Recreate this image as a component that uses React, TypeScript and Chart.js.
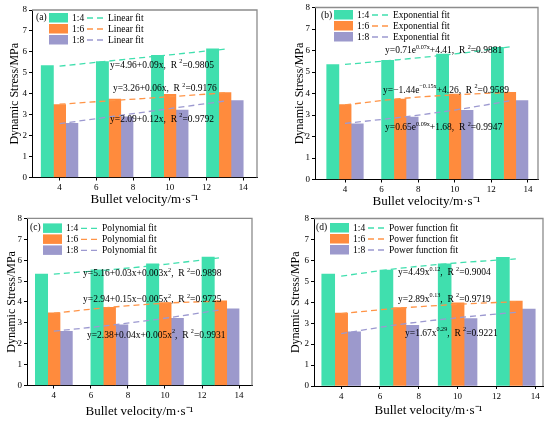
import React, { useEffect, useRef } from "react";
import { Chart, registerables } from "chart.js";

Chart.register(...registerables);

Chart.defaults.font.family = "'Liberation Serif', 'Times New Roman', serif";
Chart.defaults.color = "#000";

// bullet velocity of each bar group (m/s)
const velocities = [4, 7, 10, 13];
const xTicks = [4, 6, 8, 10, 12, 14];
const yTicks = [0, 1, 2, 3, 4, 5, 6, 7, 8];
const ratios = ["1:4", "1:6", "1:8"];

// measured dynamic stress (MPa)
const stress14 = [5.34, 5.54, 5.83, 6.15];
const stress16 = [3.48, 3.74, 3.97, 4.05];
const stress18 = [2.59, 2.9, 3.22, 3.67];

// fit curves
const linear14 = [5.32, 5.59, 5.86, 6.13];
const linear16 = [3.5, 3.68, 3.86, 4.04];
const linear18 = [2.57, 2.93, 3.29, 3.65];

const exp14 = [5.35, 5.58, 5.84, 6.17];
const exp16 = [3.47, 3.76, 3.94, 4.05];
const exp18 = [2.61, 2.89, 3.23, 3.66];

const poly14 = [5.33, 5.54, 5.8, 6.12];
const poly16 = [3.46, 3.74, 3.94, 4.04];
const poly18 = [2.6, 2.88, 3.22, 3.62];

const power14 = [5.25, 5.62, 5.88, 6.07];
const power16 = [3.46, 3.72, 3.9, 4.03];
const power18 = [2.5, 2.94, 3.26, 3.52];

const linearEq = [
  "y=4.96+0.09x,  R ^{2}=0.9805",
  "y=3.26+0.06x,  R ^{2}=0.9176",
  "y=2.09+0.12x,  R ^{2}=0.9792",
];
const expEq = [
  "y=0.71e^{0.07x}+4.41,  R ^{2}=0.9881",
  "y=\u22121.44e^{\u22120.15x}+4.26,  R ^{2}=0.9589",
  "y=0.65e^{0.09x}+1.68,  R ^{2}=0.9947",
];
const polyEq = [
  "y=5.16+0.03x+0.003x^{2},  R ^{2}=0.9898",
  "y=2.94+0.15x\u22120.005x^{2},  R ^{2}=0.9725",
  "y=2.38+0.04x+0.005x^{2},  R ^{2}=0.9931",
];
const powerEq = [
  "y=4.49x^{0.12},  R ^{2}=0.9004",
  "y=2.89x^{0.13},  R ^{2}=0.9719",
  "y=1.67x^{0.29},  R ^{2}=0.9221",
];

const barColors = ["#40dfae", "#ff8b3d", "#9c99cc"];
const lineColors = ["#40dfae", "#ff9447", "#9c99d0"];

const W = 275;
const H = 211;

type Area = { left: number; top: number; right: number; bottom: number };

interface PanelSpec {
  tag: string;
  fitName: string;
  fits: number[][];
  eqs: string[];
  eqPos: [number, number][];
  x: number;
  y: number;
  area: Area;
  xMin: number;
  xMax: number;
  yTitleX: number;
  xTitleGap: number;
  tagDx: number;
  tagDy: number;
  legDx: number;
  legDy: number;
}

const panels: PanelSpec[] = [
  {
    tag: "(a)", fitName: "Linear fit", fits: [linear14, linear16, linear18], eqs: linearEq,
    eqPos: [[6.75, 5.37], [6.91, 4.23], [6.75, 2.79]],
    x: 0, y: 0, area: { left: 32, top: 10, right: 257, bottom: 177.5 }, xMin: 2.5, xMax: 14.75,
    yTitleX: 15, xTitleGap: 11, tagDx: 4, tagDy: 7, legDx: 17, legDy: 3,
  },
  {
    tag: "(b)", fitName: "Exponential fit", fits: [exp14, exp16, exp18], eqs: expEq,
    eqPos: [[6.19, 5.98], [6.08, 4.16], [6.19, 2.4]],
    x: 275, y: 0, area: { left: 40, top: 7.5, right: 263, bottom: 179.5 }, xMin: 2.36, xMax: 14.55,
    yTitleX: 25, xTitleGap: 9, tagDx: 6, tagDy: 8, legDx: 19, legDy: 2.5,
  },
  {
    tag: "(c)", fitName: "Polynomial fit", fits: [poly14, poly16, poly18], eqs: polyEq,
    eqPos: [[5.58, 5.37], [5.58, 4.13], [5.79, 2.41]],
    x: 0, y: 211, area: { left: 27, top: 7, right: 252, bottom: 174.5 }, xMin: 2.55, xMax: 14.7,
    yTitleX: 12, xTitleGap: 10, tagDx: 3, tagDy: 9, legDx: 16, legDy: 5,
  },
  {
    tag: "(d)", fitName: "Power function fit", fits: [power14, power16, power18], eqs: powerEq,
    eqPos: [[6.93, 5.4], [6.93, 4.15], [7.29, 2.53]],
    x: 275, y: 211, area: { left: 39, top: 7.5, right: 268, bottom: 175 }, xMin: 2.6, xMax: 14.4,
    yTitleX: 20.5, xTitleGap: 11, tagDx: 2, tagDy: 8.5, legDx: 16, legDy: 4.5,
  },
];

const bars = [stress14, stress16, stress18];
const FONT = "'Liberation Serif', 'Times New Roman', serif";

function splitSup(s: string) {
  const out: { t: string; sup: boolean }[] = [];
  const re = /\^\{([^}]*)\}/g;
  let last = 0;
  let m: RegExpExecArray | null;
  while ((m = re.exec(s))) {
    if (m.index > last) out.push({ t: s.slice(last, m.index), sup: false });
    out.push({ t: m[1], sup: true });
    last = re.lastIndex;
  }
  if (last < s.length) out.push({ t: s.slice(last), sup: false });
  return out;
}

function drawRich(ctx: CanvasRenderingContext2D, s: string, x: number, y: number, size: number) {
  let cx = x;
  ctx.textBaseline = "middle";
  ctx.textAlign = "left";
  for (const seg of splitSup(s)) {
    const fs = seg.sup ? size * 0.65 : size;
    ctx.font = `${fs}px ${FONT}`;
    ctx.fillText(seg.t, cx, seg.sup ? y - size * 0.35 : y);
    cx += ctx.measureText(seg.t).width;
  }
}

function decor(spec: PanelSpec) {
  return {
    id: "decor",
    afterDatasetsDraw(chart: any) {
      const { ctx, chartArea: a, scales } = chart;
      ctx.save();
      // top and right frame
      ctx.strokeStyle = "#8c8c8c";
      ctx.lineWidth = 1.3;
      ctx.beginPath();
      ctx.moveTo(a.left, a.top);
      ctx.lineTo(a.right, a.top);
      ctx.lineTo(a.right, a.bottom);
      ctx.stroke();

      // legend
      ctx.fillStyle = "#000";
      ctx.font = `9.5px ${FONT}`;
      ctx.textBaseline = "middle";
      ctx.fillText(spec.tag, a.left + spec.tagDx, a.top + spec.tagDy);
      const bx = a.left + spec.legDx;
      ratios.forEach((r, i) => {
        const by = a.top + spec.legDy + i * 11;
        ctx.fillStyle = barColors[i];
        ctx.fillRect(bx, by, 19, 9.5);
        ctx.fillStyle = "#000";
        ctx.font = `9.5px ${FONT}`;
        ctx.fillText(r, bx + 23, by + 5);
        ctx.strokeStyle = lineColors[i];
        ctx.lineWidth = 1.3;
        ctx.setLineDash([6, 4]);
        ctx.beginPath();
        ctx.moveTo(bx + 38, by + 5);
        ctx.lineTo(bx + 57, by + 5);
        ctx.stroke();
        ctx.setLineDash([]);
        ctx.fillText(spec.fitName, bx + 59, by + 5);
      });

      // fit equations
      ctx.fillStyle = "#000";
      spec.eqs.forEach((eq, i) => {
        const [vx, vy] = spec.eqPos[i];
        drawRich(ctx, eq, scales.x.getPixelForValue(vx), scales.y.getPixelForValue(vy), 9.5);
      });
      ctx.restore();
    },
  };
}

function Panel({ spec }: { spec: PanelSpec }) {
  const canvasRef = useRef<HTMLCanvasElement | null>(null);

  useEffect(() => {
    const ctx = canvasRef.current?.getContext("2d");
    if (!ctx) return;
    const area = spec.area;
    const tickGrid = {
      display: true,
      drawOnChartArea: false,
      drawTicks: true,
      tickLength: 3,
      color: "#000",
      lineWidth: 1,
      offset: false,
    };
    const chart = new Chart(ctx, {
      type: "bar",
      data: {
        datasets: [
          ...ratios.map((r, i) => ({
            type: "bar" as const,
            label: r,
            data: velocities.map((v, j) => ({ x: v, y: bars[i][j] })),
            backgroundColor: barColors[i],
            borderWidth: 0,
            categoryPercentage: 1,
            barPercentage: 1,
            order: 2,
          })),
          ...ratios.map((r, i) => ({
            type: "line" as const,
            label: `${r} ${spec.fitName}`,
            data: velocities.map((v, j) => ({ x: v, y: spec.fits[i][j] })),
            borderColor: lineColors[i],
            borderWidth: 1.3,
            borderDash: [6, 4],
            pointRadius: 0,
            fill: false,
            cubicInterpolationMode: "monotone" as const,
            order: 1,
          })),
        ] as any,
      },
      options: {
        responsive: false,
        animation: false,
        layout: { padding: { top: area.top, right: W - area.right, left: 0, bottom: 0 } },
        plugins: { legend: { display: false }, tooltip: { enabled: false } },
        scales: {
          x: {
            type: "linear",
            min: spec.xMin,
            max: spec.xMax,
            offset: false,
            afterBuildTicks: (s: any) => {
              s.ticks = xTicks.map((v) => ({ value: v }));
            },
            afterFit: (s: any) => {
              s.height = H - area.bottom;
            },
            grid: tickGrid,
            border: { display: true, color: "#000", width: 1 },
            ticks: { font: { size: 9 }, color: "#000", padding: 2, autoSkip: false, maxRotation: 0 },
            title: {
              display: true,
              text: "Bullet velocity/m\u00b7s\u207b\u00b9",
              font: { size: 13 },
              color: "#000",
              padding: { top: 0, bottom: spec.xTitleGap - 7.8 },
            },
          },
          y: {
            type: "linear",
            min: 0,
            max: 8,
            afterBuildTicks: (s: any) => {
              s.ticks = yTicks.map((v) => ({ value: v }));
            },
            afterFit: (s: any) => {
              s.width = area.left;
            },
            grid: tickGrid,
            border: { display: true, color: "#000", width: 1 },
            ticks: { font: { size: 9 }, color: "#000", padding: 2 },
            title: {
              display: true,
              text: "Dynamic Stress/MPa",
              font: { size: 12 },
              color: "#000",
              padding: { top: spec.yTitleX - 7.2, bottom: 0 },
            },
          },
        },
      },
      plugins: [decor(spec)],
    });
    return () => {
      chart.destroy();
    };
  }, [spec]);

  return (
    <canvas
      ref={canvasRef}
      width={W}
      height={H}
      style={{ position: "absolute", left: spec.x, top: spec.y, width: W, height: H }}
    />
  );
}

export default function App() {
  return (
    <div style={{ position: "absolute", left: 0, top: 0, width: 550, height: 422, background: "#fff" }}>
      {panels.map((p) => (
        <Panel key={p.tag} spec={p} />
      ))}
    </div>
  );
}
